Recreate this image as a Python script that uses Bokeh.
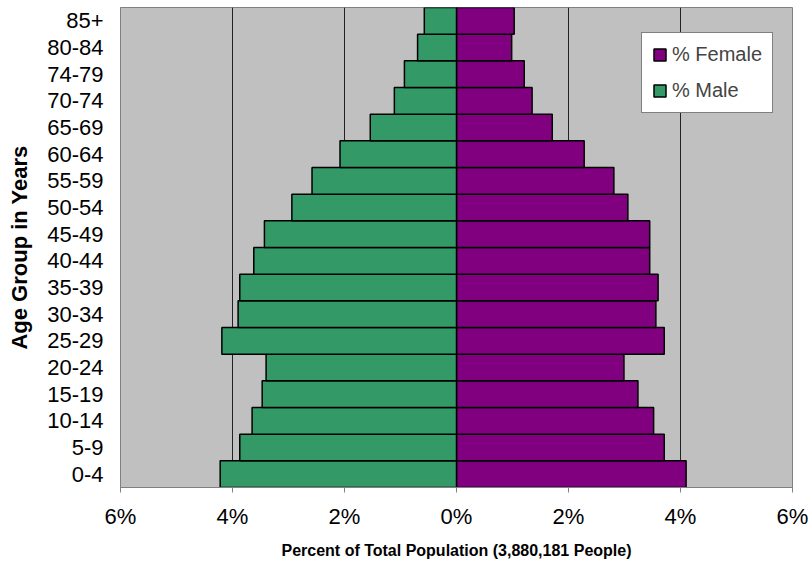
from bokeh.plotting import figure
from bokeh.models import FactorRange, Range1d, FixedTicker, Legend, LegendItem, ColumnDataSource
from bokeh.embed import file_html
from bokeh.resources import INLINE

age_groups = ["0-4", "5-9", "10-14", "15-19", "20-24", "25-29", "30-34", "35-39", "40-44",
              "45-49", "50-54", "55-59", "60-64", "65-69", "70-74", "74-79", "80-84", "85+"]
male_pct = [4.22, 3.87, 3.65, 3.47, 3.40, 4.19, 3.90, 3.87, 3.62,
            3.43, 2.94, 2.58, 2.08, 1.54, 1.11, 0.93, 0.695, 0.575]
female_pct = [4.10, 3.71, 3.52, 3.24, 2.99, 3.71, 3.56, 3.60, 3.45,
              3.45, 3.06, 2.81, 2.28, 1.71, 1.35, 1.21, 0.985, 1.03]
x_ticks = [-6, -4, -2, 0, 2, 4, 6]
x_tick_labels = ["6%", "4%", "2%", "0%", "2%", "4%", "6%"]
grid_ticks = [-4, -2, 2, 4]

FONT = "Liberation Sans"

src = ColumnDataSource(dict(
    age=age_groups,
    male_left=[-v for v in male_pct],
    female=female_pct,
    zero=[0] * len(age_groups),
))

p = figure(width=808, height=568, output_backend="svg", toolbar_location=None,
           y_range=FactorRange(factors=age_groups, range_padding=0),
           x_range=Range1d(-6, 6),
           min_border_left=120, min_border_right=16, min_border_top=7, min_border_bottom=81)

p.background_fill_color = "#C0C0C0"
p.border_fill_color = "white"
p.outline_line_color = "#808080"
p.outline_line_width = 1

female_r = p.hbar(y="age", left="zero", right="female", height=1.0, source=src,
                  fill_color="#800080", line_color="black", line_width=1.5)
male_r = p.hbar(y="age", left="male_left", right="zero", height=1.0, source=src,
                fill_color="#339966", line_color="black", line_width=1.5)

# x axis
p.xaxis.ticker = FixedTicker(ticks=x_ticks)
p.xaxis.major_label_overrides = {t: l for t, l in zip(x_ticks, x_tick_labels)}
p.xaxis.minor_tick_line_color = None
p.xaxis.major_tick_in = 0
p.xaxis.major_tick_out = 5
p.xaxis.major_tick_line_color = "#808080"
p.xaxis.axis_line_color = "#808080"
p.xaxis.major_label_text_font = FONT
p.xaxis.major_label_text_font_size = "22px"
p.xaxis.major_label_text_color = "black"
p.xaxis.major_label_standoff = 11
p.xaxis.axis_label = "Percent of Total Population (3,880,181 People)"
p.xaxis.axis_label_text_font = FONT
p.xaxis.axis_label_text_font_size = "16px"
p.xaxis.axis_label_text_font_style = "bold"
p.xaxis.axis_label_text_color = "black"
p.xaxis.axis_label_standoff = 10

# y axis
p.yaxis.major_tick_line_color = None
p.yaxis.minor_tick_line_color = None
p.yaxis.axis_line_color = "#808080"
p.yaxis.major_label_text_font = FONT
p.yaxis.major_label_text_font_size = "22px"
p.yaxis.major_label_text_color = "black"
p.yaxis.major_label_standoff = 11
p.yaxis.axis_label = "Age Group in Years"
p.yaxis.axis_label_text_font = FONT
p.yaxis.axis_label_text_font_size = "22px"
p.yaxis.axis_label_text_font_style = "bold"
p.yaxis.axis_label_text_color = "black"
p.yaxis.axis_label_standoff = 12

# grid
p.ygrid.grid_line_color = None
p.xgrid.ticker = FixedTicker(ticks=grid_ticks)
p.xgrid.grid_line_color = "#222222"
p.xgrid.grid_line_width = 1

legend = Legend(items=[LegendItem(label="% Female", renderers=[female_r]),
                       LegendItem(label="% Male", renderers=[male_r])],
                location=(521, 374), margin=0, padding=10, spacing=13,
                glyph_width=15, glyph_height=15, label_standoff=5,
                label_text_font=FONT, label_text_font_size="20px",
                border_line_color="black", border_line_width=1,
                background_fill_color="white", background_fill_alpha=1.0)
p.add_layout(legend)

open("out.html", "w").write(file_html(p, INLINE))
